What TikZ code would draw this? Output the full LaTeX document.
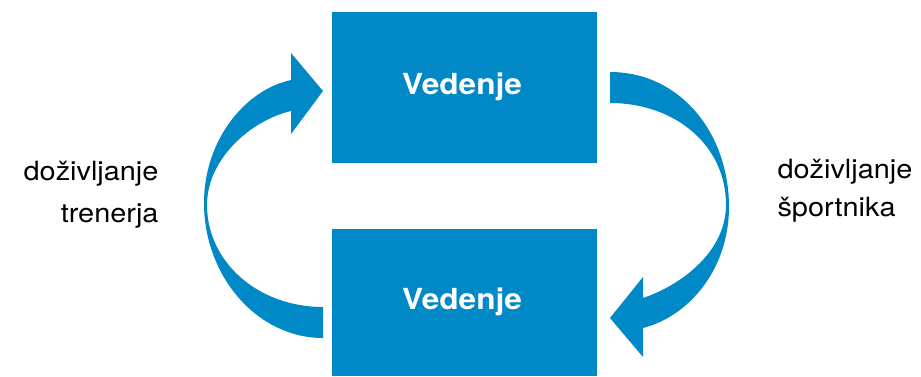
\documentclass[tikz,border=0pt]{standalone}
\usepackage{fontspec}
\setmainfont[FakeStretch=1.09]{TeX Gyre Heros}
\definecolor{cycleblue}{RGB}{0,137,198}
\begin{document}
\begin{tikzpicture}[x=1pt,y=-1pt,
  box/.style={fill=cycleblue,draw=none,inner sep=0pt},
  boxlabel/.style={text=white,font=\bfseries\fontsize{29}{34}\selectfont,anchor=base},
  sidelabel/.style={text=black,font=\fontsize{26.5}{32}\selectfont},
  curvedarrow/.style={fill=cycleblue,draw=none}]
\useasboundingbox (0,0) rectangle (921,376);

% the two boxes
\fill[box] (332,12) rectangle (597,163);
\fill[box] (332,229) rectangle (597,376);
\node[boxlabel] (top) at (462,94) {Vedenje};
\node[boxlabel] (bottom) at (462,309) {Vedenje};

% left curved arrow, bottom box -> top box
\fill[curvedarrow]
  (323,338) .. controls (257,338) and (204,276) .. (204,203)
  .. controls (204,140) and (245,90) .. (291,80)
  -- (291,53) -- (323,91) -- (291,134) -- (291,111)
  .. controls (252,120) and (207,158) .. (207,205)
  .. controls (207,262) and (258,307) .. (323,307) -- cycle;

% right curved arrow, top box -> bottom box
\fill[curvedarrow]
  (610,72) .. controls (680,72) and (729,133) .. (729,207)
  .. controls (729,268) and (690,316) .. (643,328)
  -- (643,357) -- (610,318) -- (643,277) -- (643,298)
  .. controls (684,284) and (726,250) .. (726,205)
  .. controls (726,145) and (675,103) .. (610,103) -- cycle;

% side labels
\node[sidelabel,anchor=base east] (l1) at (162,180) {doživljanje};
\node[sidelabel,anchor=base east] (l2) at (162,222) {trenerja};
\node[sidelabel,anchor=base west] (r1) at (774,178) {doživljanje};
\node[sidelabel,anchor=base west] (r2) at (774,216) {športnika};
\end{tikzpicture}
\end{document}
